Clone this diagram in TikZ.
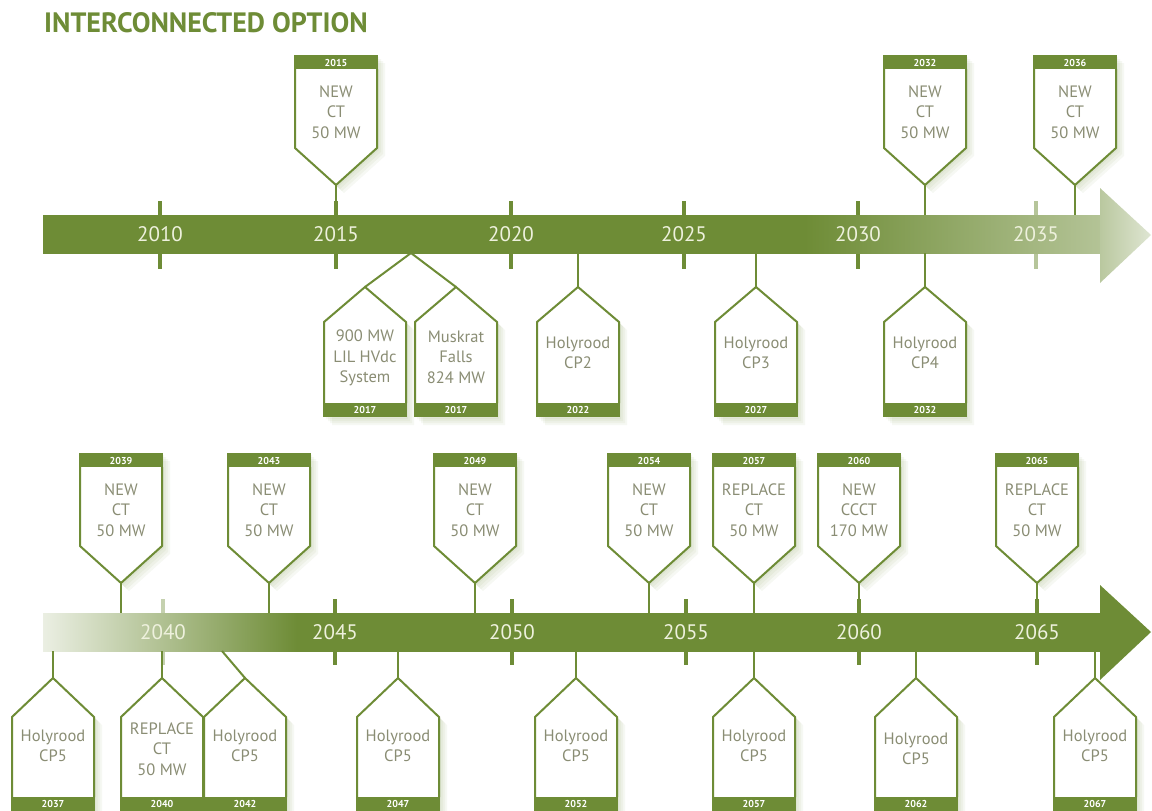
\documentclass[tikz,border=0pt]{standalone}
\usepackage{fontspec}
\setmainfont{PT Sans}
\definecolor{tlgreen}{HTML}{6E8C36}
\definecolor{tltext}{HTML}{8A8D74}
\definecolor{tlyear}{HTML}{EEF1DD}
\colorlet{tlmid}{tlgreen!52!white}
\colorlet{tlhead}{tlgreen!48!white}
\colorlet{tltip}{tlgreen!22!white}
\colorlet{tlpale}{tlgreen!14!white}
% shaded bars: the 25bp..75bp span is stretched over the bar
\pgfdeclarehorizontalshading{topbarfade}{100bp}{color(0bp)=(tlgreen); color(61bp)=(tlgreen); color(75bp)=(tlmid); color(100bp)=(tlmid)}
\pgfdeclarehorizontalshading{botbarfade}{100bp}{color(0bp)=(tlpale); color(25bp)=(tlpale); color(37bp)=(tlgreen); color(100bp)=(tlgreen)}
\tikzset{
  boxline/.style={draw=tlgreen, line width=2pt, line join=miter},
  boxfill/.style={fill=white},
  hdr/.style={fill=tlgreen},
  hdrtxt/.style={text=white, font=\bfseries\fontsize{10}{11}\selectfont, inner sep=0pt},
  boxtxt/.style={text=tltext, font=\fontsize{16.5}{20.5}\selectfont, align=center, inner sep=0pt},
  conn/.style={draw=tlgreen, line width=2pt},
  tickmark/.style={draw=tlgreen, line width=3.5pt},
  yearlbl/.style={text=tlyear, font=\fontsize{21}{24}\selectfont, inner sep=0pt},
  softshade/.style={fill=tlgreen, opacity=0.06},
}
% box hanging above a bar, pointing down: name, x, header top y, year, text
\newcommand\DownBox[5]{%
  \begin{scope}[shift={(#2,#3)}]
    \foreach \d in {2,4,6,8}{\fill[softshade,shift={(\d,\d)}] (-41,0) -- (41,0) -- (41,93) -- (0,130) -- (-41,93) -- cycle;}
    \path[boxfill] (-41,0) -- (41,0) -- (41,93) -- (0,130) -- (-41,93) -- cycle;
    \fill[hdr] (-42,0) rectangle (42,14);
    \draw[boxline] (-41,14) -- (-41,93) -- (0,130) -- (41,93) -- (41,14);
    \node[hdrtxt] (#1y) at (0,7.5) {#4};
    \node[boxtxt] (#1) at (0,57) {#5};
    \coordinate (#1a) at (0,130);
    \coordinate (#1b) at (0,160);
  \end{scope}}
% box below a bar, pointing up: name, x, year, text, text centre y
\newcommand\UpBox[5]{%
  \begin{scope}[shift={(#2,0)}]
    \foreach \d in {2,4,6,8}{\fill[softshade,shift={(\d,\d)}] (-41,\HdY+14) -- (-41,\ShY) -- (0,\ApexY) -- (41,\ShY) -- (41,\HdY+14) -- cycle;}
    \path[boxfill] (-41,\HdY+14) -- (-41,\ShY) -- (0,\ApexY) -- (41,\ShY) -- (41,\HdY+14) -- cycle;
    \fill[hdr] (-42,\HdY) rectangle (42,\HdY+14);
    \draw[boxline] (-41,\HdY) -- (-41,\ShY) -- (0,\ApexY) -- (41,\ShY) -- (41,\HdY);
    \node[hdrtxt] (#1y) at (0,\HdY+7) {#3};
    \node[boxtxt] (#1) at (0,#5) {#4};
    \coordinate (#1a) at (0,\ApexY);
    \coordinate (#1b) at (0,\BarBot);
  \end{scope}}
\begin{document}
\begin{tikzpicture}[x=1pt,y=-1pt]
\fill[white] (0,0) rectangle (1152,811);
\useasboundingbox (0,0) rectangle (1152,811);
\clip (0,0) rectangle (1152,811);

% title
\node[anchor=base west, inner sep=0pt, text=tlgreen, font=\bfseries\fontsize{28}{31}\selectfont] (title) at (44,32) {INTERCONNECTED OPTION};

% ===== row 1 =====
\foreach \x in {160,336,511,684,858}{\draw[tickmark] (\x,201) -- (\x,269);}
\draw[tickmark, draw=tlgreen!50!white] (1036,201) -- (1036,269);
\shade[shading=topbarfade] (43,215) rectangle (1101,253);
\shade[left color=tlhead, right color=tltip] (1100,188) -- (1151,235) -- (1100,283) -- cycle;
\node[yearlbl] (y2010) at (160,234) {2010};
\node[yearlbl] (y2015) at (336,234) {2015};
\node[yearlbl] (y2020) at (511,234) {2020};
\node[yearlbl] (y2025) at (684,234) {2025};
\node[yearlbl] (y2030) at (858,234) {2030};
\node[yearlbl] (y2035) at (1036,234) {2035};

\DownBox{t15}{336}{55}{2015}{NEW\\CT\\50 MW}
\DownBox{t32}{925}{55}{2032}{NEW\\CT\\50 MW}
\DownBox{t36}{1075}{55}{2036}{NEW\\CT\\50 MW}
\foreach \n in {t15,t32,t36}{\draw[conn] (\n a) -- (\n b);}

\def\ApexY{287}\def\ShY{322}\def\HdY{403}\def\BarBot{253}
\UpBox{b17a}{365}{2017}{900 MW\\LIL HVdc\\System}{358}
\UpBox{b17b}{456}{2017}{Muskrat\\Falls\\824 MW}{357}
\UpBox{b22}{578}{2022}{Holyrood\\CP2}{353}
\UpBox{b27}{756}{2027}{Holyrood\\CP3}{353}
\UpBox{b32}{925}{2032}{Holyrood\\CP4}{353}
\coordinate (j17) at (411,253);
\draw[conn] (j17) -- (b17aa);
\draw[conn] (j17) -- (b17ba);
\foreach \n in {b22,b27,b32}{\draw[conn] (\n a) -- (\n b);}

% ===== row 2 =====
\foreach \x in {335,512,686,859,1037}{\draw[tickmark] (\x,599) -- (\x,665);}
\draw[tickmark, draw=tlgreen!40!white] (163,599) -- (163,665);
\shade[shading=botbarfade] (43,613) rectangle (1101,651);
\fill[tlgreen] (1100,585) -- (1151,632) -- (1100,680) -- cycle;
\node[yearlbl] (y2040) at (163,632) {2040};
\node[yearlbl] (y2045) at (335,632) {2045};
\node[yearlbl] (y2050) at (512,632) {2050};
\node[yearlbl] (y2055) at (686,632) {2055};
\node[yearlbl] (y2060) at (859,632) {2060};
\node[yearlbl] (y2065) at (1037,632) {2065};

\DownBox{t39}{121}{453}{2039}{NEW\\CT\\50 MW}
\DownBox{t43}{269}{453}{2043}{NEW\\CT\\50 MW}
\DownBox{t49}{475}{453}{2049}{NEW\\CT\\50 MW}
\DownBox{t54}{649}{453}{2054}{NEW\\CT\\50 MW}
\DownBox{t57}{754}{453}{2057}{REPLACE\\CT\\50 MW}
\DownBox{t60}{859}{453}{2060}{NEW\\CCCT\\170 MW}
\DownBox{t65}{1037}{453}{2065}{REPLACE\\CT\\50 MW}
\foreach \n in {t39,t43,t49,t54,t57,t60,t65}{\draw[conn] (\n a) -- (\n b);}

\def\ApexY{678}\def\ShY{717}\def\HdY{797}\def\BarBot{651}
\UpBox{b37}{53}{2037}{Holyrood\\CP5}{746}
\UpBox{b40}{162}{2040}{REPLACE\\CT\\50 MW}{749}
\UpBox{b42}{245}{2042}{Holyrood\\CP5}{746}
\UpBox{b47}{398}{2047}{Holyrood\\CP5}{746}
\UpBox{b52}{576}{2052}{Holyrood\\CP5}{746}
\UpBox{b57}{754}{2057}{Holyrood\\CP5}{746}
\UpBox{b62}{916}{2062}{Holyrood\\CP5}{749}
\UpBox{b67}{1095}{2067}{Holyrood\\CP5}{746}
\coordinate (j42) at (222,651);
\draw[conn] (j42) -- (b42a);
\foreach \n in {b37,b40,b47,b52,b57,b62,b67}{\draw[conn] (\n a) -- (\n b);}
\end{tikzpicture}
\end{document}
